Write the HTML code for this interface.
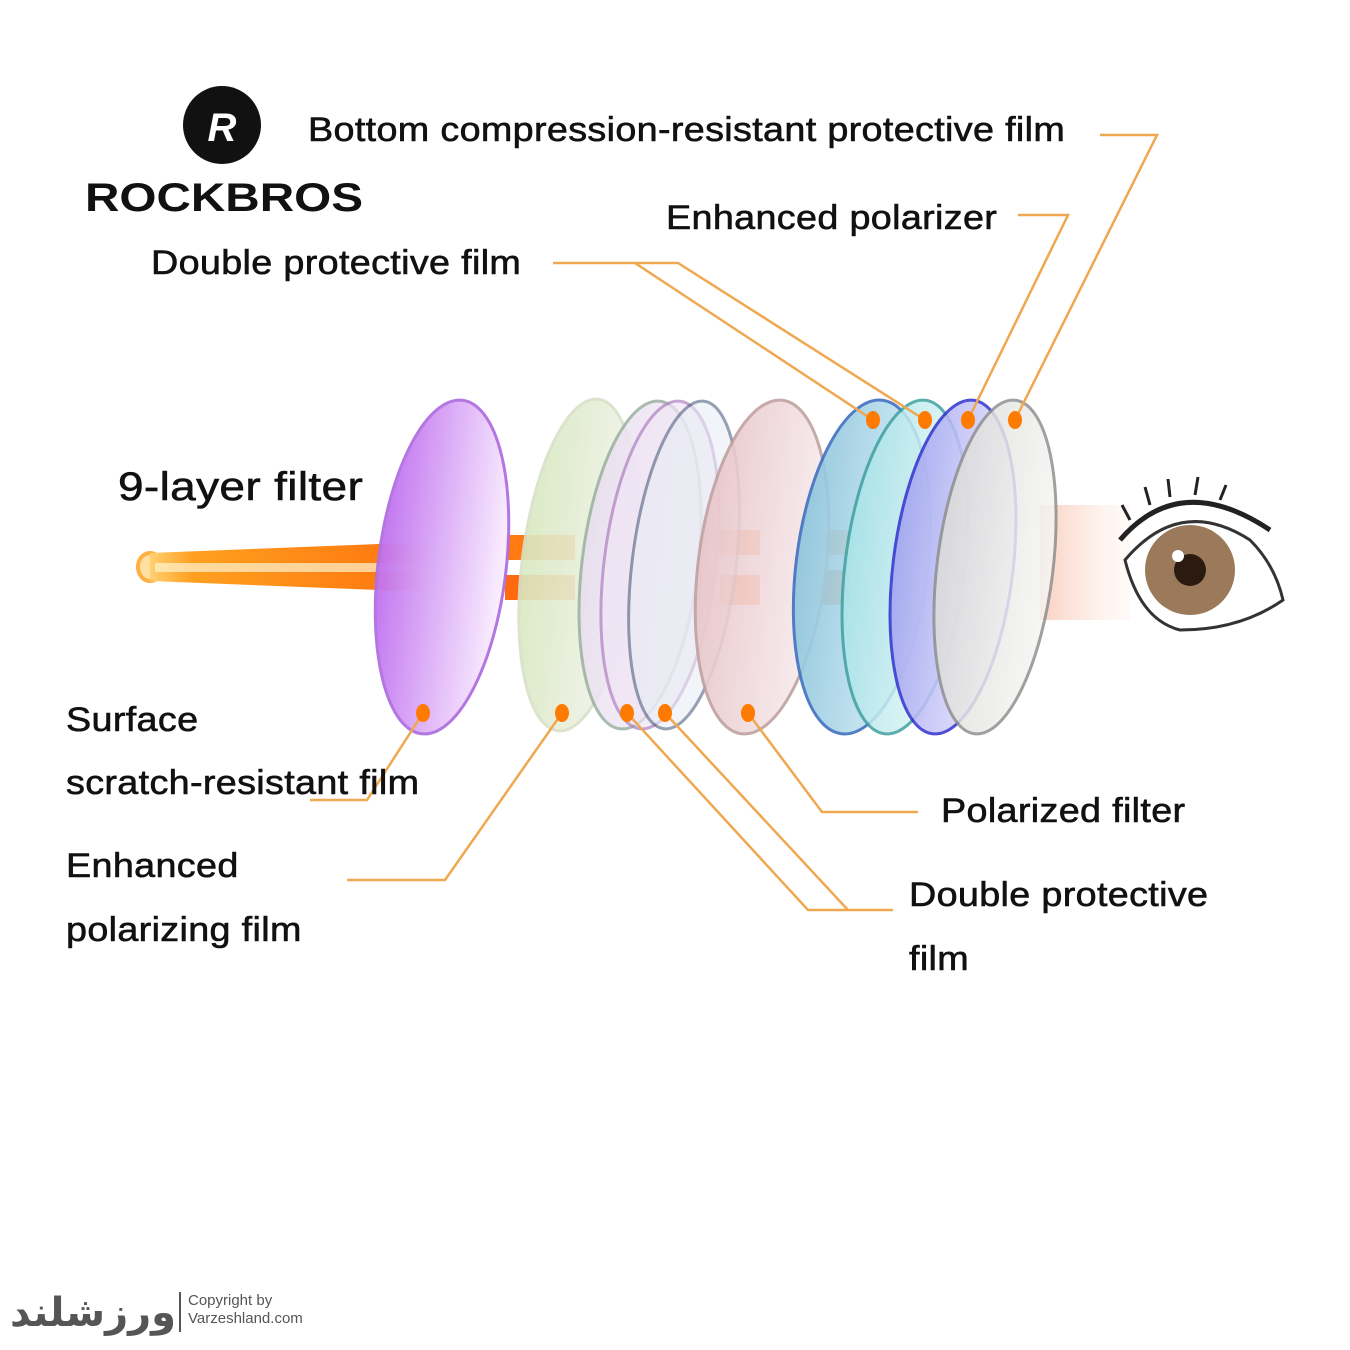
<!DOCTYPE html>
<html><head><meta charset="utf-8"><style>
html,body{margin:0;padding:0;background:#fff}
body{width:1350px;height:1350px;position:relative;overflow:hidden;font-family:"Liberation Sans",sans-serif}
.t{position:absolute;font-size:34px;color:#111;white-space:nowrap;letter-spacing:0.3px;-webkit-text-stroke:0.6px #111;transform:scaleX(1.11);transform-origin:0 0}
</style></head><body>
<svg width="1350" height="1350" style="position:absolute;left:0;top:0">
<defs>
<linearGradient id="beam" x1="0" x2="1"><stop offset="0" stop-color="#ffd070"/><stop offset="0.15" stop-color="#ffa020"/><stop offset="0.85" stop-color="#ff7a10"/><stop offset="1" stop-color="#ff7a10" stop-opacity="0"/></linearGradient>
<linearGradient id="g1" x1="0" x2="1"><stop offset="0" stop-color="#c070f0"/><stop offset="1" stop-color="#fbf0ff"/></linearGradient>
<linearGradient id="g2" x1="0" x2="1"><stop offset="0" stop-color="#d8e8c0"/><stop offset="1" stop-color="#f4f4ee"/></linearGradient>
<linearGradient id="g3" x1="0" x2="1"><stop offset="0" stop-color="#e8ddf0"/><stop offset="1" stop-color="#f8f4fa"/></linearGradient>
<linearGradient id="g6" x1="0" x2="1"><stop offset="0" stop-color="#e8c4c8"/><stop offset="1" stop-color="#f8eef0"/></linearGradient>
<linearGradient id="g7" x1="0" x2="1"><stop offset="0" stop-color="#8cc4dc"/><stop offset="1" stop-color="#d8f0f8"/></linearGradient>
<linearGradient id="g8" x1="0" x2="1"><stop offset="0" stop-color="#a8e4e8"/><stop offset="1" stop-color="#e8f8f8"/></linearGradient>
<linearGradient id="g9" x1="0" x2="1"><stop offset="0" stop-color="#a0a0f0"/><stop offset="1" stop-color="#eceaff"/></linearGradient>
<linearGradient id="g10" x1="0" x2="1"><stop offset="0" stop-color="#dcdcd8"/><stop offset="1" stop-color="#f6f6f4"/></linearGradient>
<linearGradient id="beam2" x1="0" x2="1"><stop offset="0" stop-color="#f8d0c0"/><stop offset="1" stop-color="#fff0ea" stop-opacity="0.3"/></linearGradient>
</defs>
<rect x="1040" y="505" width="90" height="115" fill="url(#beam2)"/>
<ellipse cx="150" cy="567" rx="12" ry="14" fill="#ffe0a0" stroke="#ffb040" stroke-width="4"/>
<polygon points="150,553 430,542 430,592 150,581" fill="url(#beam)"/>
<rect x="155" y="563" width="275" height="9" fill="#fff3d0" opacity="0.7"/>
<rect x="505" y="535" width="70" height="25" fill="#ff7a10"/>
<rect x="505" y="575" width="70" height="25" fill="#ff6a10"/>
<rect x="720" y="530" width="40" height="25" fill="#ff8a30"/>
<rect x="720" y="575" width="40" height="30" fill="#ff7010"/>
<rect x="815" y="530" width="35" height="25" fill="#f8a060"/>
<rect x="815" y="570" width="35" height="35" fill="#f08040"/>
<g stroke-width="3">
<ellipse cx="442" cy="567" rx="64" ry="168" transform="rotate(7 442 567)" fill="url(#g1)" stroke="#b070e0" opacity="0.95"/>
<ellipse cx="578" cy="565" rx="56" ry="167" transform="rotate(7 578 565)" fill="url(#g2)" stroke="#d8e0c8" opacity="0.9"/>
<ellipse cx="640" cy="565" rx="58" ry="165" transform="rotate(7 640 565)" fill="url(#g3)" stroke="#9ab0a0" opacity="0.85"/>
<ellipse cx="660" cy="565" rx="56" ry="165" transform="rotate(7 660 565)" fill="#f0e4f4" stroke="#b080c0" opacity="0.7"/>
<ellipse cx="684" cy="565" rx="52" ry="165" transform="rotate(7 684 565)" fill="#e8eef4" stroke="#506080" opacity="0.6"/>
<ellipse cx="762" cy="567" rx="64" ry="168" transform="rotate(7 762 567)" fill="url(#g6)" stroke="#c0a0a0" opacity="0.9"/>
<ellipse cx="862" cy="567" rx="66" ry="168" transform="rotate(7 862 567)" fill="url(#g7)" stroke="#4070c0" opacity="0.9"/>
<ellipse cx="905" cy="567" rx="60" ry="168" transform="rotate(7 905 567)" fill="url(#g8)" stroke="#40a0a0" opacity="0.85"/>
<ellipse cx="953" cy="567" rx="60" ry="168" transform="rotate(7 953 567)" fill="url(#g9)" stroke="#3030d0" opacity="0.85"/>
<ellipse cx="995" cy="567" rx="58" ry="168" transform="rotate(7 995 567)" fill="url(#g10)" stroke="#909090" opacity="0.85"/>
</g>
<g>
<path d="M1125,560 Q1180,495 1250,540 Q1275,565 1283,600 Q1240,630 1180,630 Q1140,620 1125,560Z" fill="#fff" stroke="#333" stroke-width="3"/>
<circle cx="1190" cy="570" r="45" fill="#9a7a5a"/>
<circle cx="1190" cy="570" r="16" fill="#2a1a10"/>
<circle cx="1178" cy="556" r="6" fill="#fff"/>
<path d="M1120,540 Q1180,470 1270,530" fill="none" stroke="#222" stroke-width="5"/>
<path d="M1130,520 l-8,-15 M1150,505 l-5,-18 M1170,497 l-2,-18 M1195,495 l3,-18 M1220,500 l6,-15" stroke="#222" stroke-width="3"/>
</g>
<g fill="none" stroke="#f0a850" stroke-width="2.5">
<polyline points="1100,135 1157,135 1015,420"/>
<polyline points="1018,215 1068,215 968,420"/>
<polyline points="553,263 678,263 925,420"/>
<line x1="635" y1="263" x2="873" y2="420"/>
<polyline points="423,713 367,800 310,800"/>
<polyline points="562,713 445,880 347,880"/>
<polyline points="627,713 808,910 893,910"/>
<line x1="665" y1="713" x2="848" y2="910"/>
<polyline points="748,713 822,812 918,812"/>
</g>
<g fill="#ff7a00">
<ellipse cx="873" cy="420" rx="7" ry="9"/><ellipse cx="925" cy="420" rx="7" ry="9"/>
<ellipse cx="968" cy="420" rx="7" ry="9"/><ellipse cx="1015" cy="420" rx="7" ry="9"/>
<ellipse cx="423" cy="713" rx="7" ry="9"/><ellipse cx="562" cy="713" rx="7" ry="9"/>
<ellipse cx="627" cy="713" rx="7" ry="9"/><ellipse cx="665" cy="713" rx="7" ry="9"/>
<ellipse cx="748" cy="713" rx="7" ry="9"/>
</g>
<circle cx="222" cy="125" r="39" fill="#111"/>
<text x="222" y="141" text-anchor="middle" font-family="Liberation Sans" font-weight="bold" font-style="italic" font-size="40" fill="#fff">R</text>
<text x="85" y="211" font-family="Liberation Sans" font-weight="bold" font-size="40" fill="#111" textLength="278" lengthAdjust="spacingAndGlyphs">ROCKBROS</text>
<line x1="180" y1="1292" x2="180" y2="1332" stroke="#555" stroke-width="2"/>
</svg>
<div class="t" style="left:308px;top:111px">Bottom compression-resistant protective film</div>
<div class="t" style="left:666px;top:199px">Enhanced polarizer</div>
<div class="t" style="left:151px;top:244px">Double protective film</div>
<div class="t" style="left:118px;top:465px;font-size:40px;transform:scaleX(1.15)">9-layer filter</div>
<div class="t" style="left:66px;top:701px">Surface</div>
<div class="t" style="left:66px;top:764px">scratch-resistant film</div>
<div class="t" style="left:66px;top:847px">Enhanced</div>
<div class="t" style="left:66px;top:911px">polarizing film</div>
<div class="t" style="left:941px;top:792px">Polarized filter</div>
<div class="t" style="left:909px;top:876px">Double protective</div>
<div class="t" style="left:909px;top:940px">film</div>
<div style="position:absolute;left:10px;top:1284px;font-family:'Noto Sans CJK SC','DejaVu Sans',sans-serif;font-size:40px;font-weight:bold;color:#555;line-height:50px">ورزشلند</div>
<div style="position:absolute;left:188px;top:1292px;font-size:15px;color:#555;line-height:18px">Copyright by<br>Varzeshland.com</div>
</body></html>
